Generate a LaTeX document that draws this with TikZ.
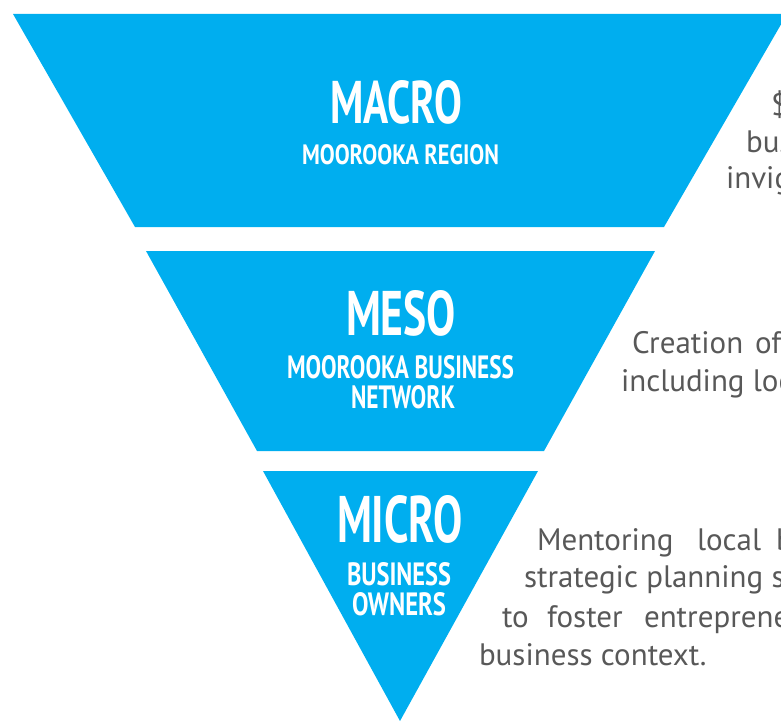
\documentclass[tikz,border=0pt]{standalone}
\usepackage{fontspec}
\setmainfont{PT Sans}
\definecolor{pyr}{RGB}{0,174,239}
\definecolor{txtgray}{RGB}{88,88,88}
\newcommand{\fitt}[3]{\resizebox{#1pt}{#2pt}{\bfseries #3}}
\begin{document}
\begin{tikzpicture}[x=1pt,y=-1pt,
  ttl/.style={anchor=base west, inner sep=0pt, outer sep=0pt, text=white},
  body/.style={anchor=base west, inner sep=0pt, outer sep=0pt, text=txtgray, font=\fontsize{31}{38}\selectfont},
  band/.style={fill=pyr, draw=none}]
\useasboundingbox (0,0) rectangle (781,722);
\clip (0,0) rectangle (781,722);
% pyramid pieces
\fill[band] (13,14) -- (787,14) -- (664,227) -- (135,227) -- cycle;
\fill[band] (146,251) -- (655,251) -- (544,451) -- (257,451) -- cycle;
\fill[band] (263,471) -- (538,471) -- (400,721) -- cycle;
% titles
\node[ttl] (macro) at (330,124) {\fitt{132}{43}{MACRO}};
\node[ttl] (macrosub) at (302,165) {\fitt{197}{20}{MOOROOKA REGION}};
\node[ttl] (meso) at (346,335) {\fitt{110}{45}{MESO}};
\node[ttl] (mesosub1) at (287,378) {\fitt{227}{23}{MOOROOKA BUSINESS}};
\node[ttl] (mesosub2) at (351,408) {\fitt{104}{23}{NETWORK}};
\node[ttl] (micro) at (337,542) {\fitt{126}{47}{MICRO}};
\node[ttl] (microsub1) at (347,585) {\fitt{104}{23}{BUSINESS}};
\node[ttl] (microsub2) at (352,615) {\fitt{94}{23}{OWNERS}};
% macro text
\node[body] (ma1) at (771,116) {\$};
\node[body] (ma2) at (746,153) {business};
\node[body] (ma3) at (726,189) {invigorate};
% meso text
\node[body] (me1a) at (632,353) {Creation};
\node[body] (me1b) at (755,353) {of};
\node[body] (me2) at (621,391) {including local};
% micro text
\node[body] (mi1a) at (537,550) {Mentoring};
\node[body] (mi1b) at (697,550) {local};
\node[body] (mi1c) at (776,550) {business};
\node[body] (mi2) at (524,587) {strategic planning sessions};
\node[body] (mi3a) at (502,627) {to};
\node[body] (mi3b) at (547,627) {foster};
\node[body] (mi3c) at (644,627) {entrepreneurship};
\node[body] (mi4) at (479,665) {business context.};
\end{tikzpicture}
\end{document}
